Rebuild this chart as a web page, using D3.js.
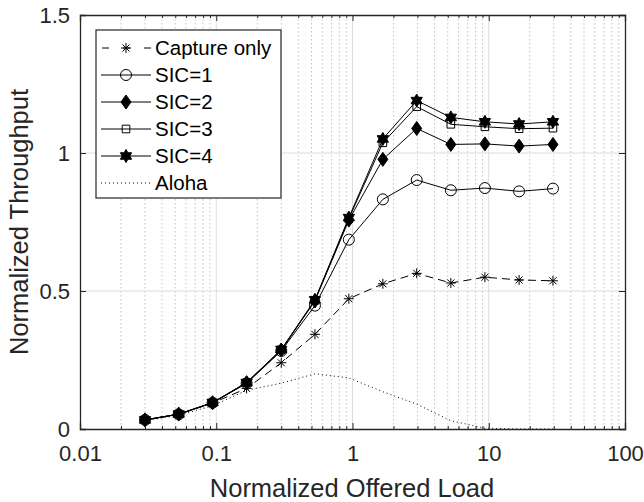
<!DOCTYPE html>
<html><head><meta charset="utf-8">
<script src="https://cdn.jsdelivr.net/npm/d3@7"></script>
<style>
body{margin:0;background:#fff}
svg{display:block;font-family:"Liberation Sans",Arial,Helvetica,sans-serif}
</style>
</head><body><svg id="c" width="644" height="502"></svg>
<script>
// ---- data ----
const loads   = [0.03, 0.053, 0.094, 0.167, 0.3, 0.53, 0.94, 1.67, 2.96, 5.27, 9.37, 16.7, 29.6];
const capture = [0.033, 0.053, 0.094, 0.147, 0.240, 0.343, 0.472, 0.526, 0.564, 0.529, 0.550, 0.540, 0.537];
const sic1    = [0.033, 0.053, 0.095, 0.165, 0.283, 0.447, 0.686, 0.832, 0.902, 0.865, 0.873, 0.861, 0.871];
const sic2    = [0.033, 0.054, 0.095, 0.168, 0.286, 0.464, 0.757, 0.977, 1.089, 1.031, 1.033, 1.025, 1.031];
const sic3    = [0.033, 0.054, 0.095, 0.168, 0.287, 0.466, 0.762, 1.037, 1.168, 1.104, 1.095, 1.088, 1.090];
const sic4    = [0.033, 0.054, 0.096, 0.168, 0.288, 0.468, 0.766, 1.051, 1.190, 1.129, 1.113, 1.105, 1.113];
const aloha   = [0.030, 0.050, 0.084, 0.140, 0.166, 0.200, 0.185, 0.135, 0.090, 0.030, 0.003, 0.000, 0.000];
const seriesNames = ["Capture only", "SIC=1", "SIC=2", "SIC=3", "SIC=4", "Aloha"];
const xTickLabels = ["0.01", "0.1", "1", "10", "100"];
const xTickValues = [0.01, 0.1, 1, 10, 100];
const yTickValues = [0, 0.5, 1, 1.5];
const xTitle = "Normalized Offered Load";
const yTitle = "Normalized Throughput";

// ---- setup ----
const svg = d3.select("#c");
const L = 80, R = 625, T = 15, B = 429;
const x = d3.scaleLog().domain([0.01, 100]).range([L, R]);
const y = d3.scaleLinear().domain([0, 1.5]).range([B, T]);
const ink = "#262626";

const minors = x.ticks().filter(v => !xTickValues.some(m => Math.abs(Math.log10(v) - Math.log10(m)) < 1e-6));

// grid
const grid = svg.append("g");
grid.selectAll(".mg").data(minors).join("line")
  .attr("x1", d => x(d)).attr("x2", d => x(d)).attr("y1", T).attr("y2", B)
  .attr("stroke", "#c4c4c4").attr("stroke-width", 1).attr("stroke-dasharray", "1.5,2.5");
grid.selectAll(".gx").data(xTickValues.slice(1, -1)).join("line")
  .attr("x1", d => x(d)).attr("x2", d => x(d)).attr("y1", T).attr("y2", B)
  .attr("stroke", "#dcdcdc").attr("stroke-width", 1);
grid.selectAll(".gy").data(yTickValues.slice(1, -1)).join("line")
  .attr("x1", L).attr("x2", R).attr("y1", d => y(d)).attr("y2", d => y(d))
  .attr("stroke", "#dcdcdc").attr("stroke-width", 1);

// markers
function star8(r) {
  const a = r * Math.SQRT1_2;
  return `M${-r},0L${r},0M0,${-r}L0,${r}M${-a},${-a}L${a},${a}M${-a},${a}L${a},${-a}`;
}
function hexagram(ro) {
  const ri = ro / Math.sqrt(3);
  let p = "";
  for (let i = 0; i < 12; i++) {
    const ang = -Math.PI / 2 + i * Math.PI / 6;
    const r = i % 2 === 0 ? ro : ri;
    p += (i ? "L" : "M") + (r * Math.cos(ang)).toFixed(2) + "," + (r * Math.sin(ang)).toFixed(2);
  }
  return p + "Z";
}
const markerDefs = [
  { path: star8(5), fill: "none" },
  { path: d3.symbol(d3.symbolCircle, Math.PI * 5.5 * 5.5)(), fill: "none" },
  { path: "M0,-7L5,0L0,7L-5,0Z", fill: "#000" },
  { path: "M-3.8,-3.8L3.8,-3.8L3.8,3.8L-3.8,3.8Z", fill: "none" },
  { path: hexagram(6.5), fill: "#000" },
  null
];
const dashes = ["8,5", null, null, null, null, "1,3"];
const allSeries = [capture, sic1, sic2, sic3, sic4, aloha];

const line = d3.line().x(d => x(d[0])).y(d => y(d[1]));
const plot = svg.append("g");
allSeries.forEach((vals, i) => {
  const pts = loads.map((l, j) => [l, vals[j]]);
  const g = plot.append("g");
  g.append("path").attr("d", line(pts)).attr("fill", "none")
    .attr("stroke", "#000").attr("stroke-width", 1)
    .attr("stroke-dasharray", dashes[i]);
  const m = markerDefs[i];
  if (m) {
    g.selectAll("path.m").data(pts).join("path").attr("class", "m")
      .attr("transform", d => `translate(${x(d[0])},${y(d[1])})`)
      .attr("d", m.path).attr("fill", m.fill).attr("stroke", "#000").attr("stroke-width", 1);
  }
});

// axes
const fmt = d => xTickLabels[xTickValues.indexOf(d)];
svg.append("g").attr("transform", `translate(0,${B})`)
  .call(d3.axisBottom(x).tickValues(xTickValues).tickFormat(fmt).tickSize(-6).tickPadding(16));
svg.append("g").attr("transform", `translate(0,${B})`)
  .call(d3.axisBottom(x).tickValues(minors).tickFormat("").tickSize(-3)).select(".domain").remove();
svg.append("g").attr("transform", `translate(0,${T})`)
  .call(d3.axisTop(x).tickValues(xTickValues).tickFormat("").tickSize(-6));
svg.append("g").attr("transform", `translate(0,${T})`)
  .call(d3.axisTop(x).tickValues(minors).tickFormat("").tickSize(-3)).select(".domain").remove();
svg.append("g").attr("transform", `translate(${L},0)`)
  .call(d3.axisLeft(y).tickValues(yTickValues).tickFormat(d => String(d)).tickSize(-6).tickPadding(10));
svg.append("g").attr("transform", `translate(${R},0)`)
  .call(d3.axisRight(y).tickValues(yTickValues).tickFormat("").tickSize(-6));

svg.selectAll(".domain").attr("stroke", ink).attr("stroke-width", 1.3);
svg.selectAll(".tick line").attr("stroke", ink).attr("stroke-width", 1);
svg.selectAll(".tick text").attr("fill", ink).attr("font-size", 22)
  .attr("font-family", '"Liberation Sans",Arial,sans-serif');

// titles
svg.append("text").attr("x", 352).attr("y", 497).attr("text-anchor", "middle")
  .attr("font-size", 25.5).attr("fill", ink).text(xTitle);
svg.append("text").attr("transform", "translate(28,222) rotate(-90)").attr("text-anchor", "middle")
  .attr("font-size", 25.5).attr("fill", ink).text(yTitle);

// legend
const lg = svg.append("g");
lg.append("rect").attr("x", 96).attr("y", 30).attr("width", 185).attr("height", 168)
  .attr("fill", "#fff").attr("stroke", ink).attr("stroke-width", 1.2);
seriesNames.forEach((name, i) => {
  const cy = 48 + i * 27;
  lg.append("line").attr("x1", 101).attr("x2", 151).attr("y1", cy).attr("y2", cy)
    .attr("stroke", "#000").attr("stroke-width", 1)
    .attr("stroke-dasharray", i === 0 ? "7,14" : dashes[i])
    .attr("stroke-dashoffset", i === 0 ? -1 : 0);
  const m = markerDefs[i];
  if (m) {
    lg.append("path").attr("transform", `translate(126,${cy})`).attr("d", m.path)
      .attr("fill", m.fill).attr("stroke", "#000").attr("stroke-width", 1);
  }
  lg.append("text").attr("x", 155).attr("y", cy).attr("dy", "0.36em")
    .attr("font-size", 20.5).attr("fill", "#000").text(name);
});
</script></body></html>
